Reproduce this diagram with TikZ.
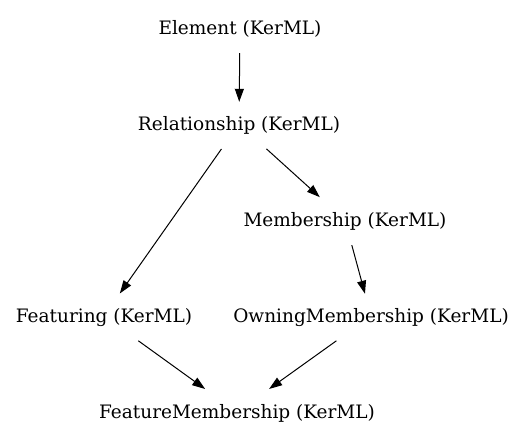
\documentclass[tikz,border=0pt]{standalone}
\usepackage{fontspec}
\setmainfont{DejaVu Serif}
\usetikzlibrary{arrows.meta}

\begin{document}
\begin{tikzpicture}[x=1pt, y=-1pt,
    cls/.style={rectangle, inner sep=0pt, minimum height=48pt,
      text height=14pt, text depth=0pt,
      font=\fontsize{18.5}{22}\selectfont},
    gen/.style={-{Triangle[length=13pt, width=9pt]}, line width=1pt,
      shorten <=1pt, shorten >=-2pt}
  ]
    \useasboundingbox (0,0) rectangle (531,443);

    \node[cls] (elem)     at (240,28)  {Element (KerML)};
    \node[cls] (rel)      at (239,124) {Relationship (KerML)};
    \node[cls] (memb)     at (345,220) {Membership (KerML)};
    \node[cls] (feat)     at (104,316) {Featuring (KerML)};
    \node[cls] (owning)   at (371,316) {OwningMembership (KerML)};
    \node[cls] (featmemb) at (237,412) {FeatureMembership (KerML)};

    %\foreach \n in {elem,rel,memb,feat,owning,featmemb} \draw[red] (\n.south west) rectangle (\n.north east);

    \draw[gen] (elem) -- (rel);
    \draw[gen] (rel) -- (memb);
    \draw[gen] (rel) -- (feat);
    \draw[gen] (memb) -- (owning);
    \draw[gen] (feat) -- (featmemb);
    \draw[gen] (owning) -- (featmemb);
\end{tikzpicture}
\end{document}
